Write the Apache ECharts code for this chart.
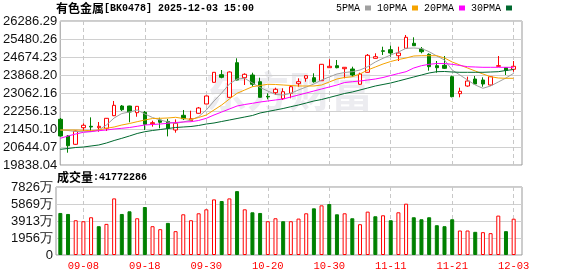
<!DOCTYPE html>
<html><head><meta charset="utf-8">
<script src="https://cdn.jsdelivr.net/npm/echarts@6/dist/echarts.min.js"></script>
<style>html,body{margin:0;padding:0;background:#fff}#c{width:578px;height:276px}</style>
</head><body><div id="c"></div>
<script>
// ---------- data ----------
const titleName = '有色金属';
const titleCode = '[BK0478] 2025-12-03 15:00';
const volTitle = '成交量';
const volLatest = ':41772286';
const maNames = ['5PMA', '10PMA', '20PMA', '30PMA'];

const dates = ['09-03','09-04','09-05','09-08','09-09','09-10','09-11','09-12','09-15','09-16',
  '09-17','09-18','09-19','09-22','09-23','09-24','09-25','09-26','09-29','09-30',
  '10-09','10-10','10-13','10-14','10-15','10-16','10-17','10-20','10-21','10-22',
  '10-23','10-24','10-27','10-28','10-29','10-30','10-31','11-03','11-04','11-05',
  '11-06','11-07','11-10','11-11','11-12','11-13','11-14','11-17','11-18','11-19',
  '11-20','11-21','11-24','11-25','11-26','11-27','11-28','12-01','12-02','12-03'];

const opens = [21884,21137,20765,21508,21571,21508,21481,22045,22480,22480,
  22180,22198,21687,21853,21790,21405,22064,21822,22153,22570,
  23541,23882,22869,24419,23747,23868,23568,22914,23076,22807,
  23049,23478,23720,23747,23613,24195,24285,24150,24137,23452,
  23989,24616,24952,25001,24732,25064,25288,25032,24795,24285,
  24303,23792,23031,23375,23689,23644,23420,24258,24195,24124];
const closes = [21137,20702,21360,21616,21540,21571,21929,22511,22314,22211,
  22466,21660,21732,21750,21480,21705,21911,21911,22391,22928,
  23989,23765,24002,23644,23900,23452,22869,22883,23228,23120,
  23344,23568,23837,23568,24347,24258,24195,24213,23868,23913,
  24750,24688,24930,24853,24853,25556,25180,24912,24240,24195,
  24168,22896,23138,23599,23465,23465,23792,24285,24078,24258];
const lows = [21110,20389,20740,21361,21329,21329,21361,22030,22256,21750,
  21999,21405,21553,21481,21120,21285,21853,21822,22140,22560,
  23530,23720,22850,23630,23420,23347,22860,22780,22973,22748,
  22825,23344,23568,23523,23600,24190,24168,23720,23792,23420,
  23980,24610,24764,24688,24495,25032,25175,24840,24061,23971,
  24137,22869,22869,23344,23420,23344,23389,24226,23868,24016];
const highs = [21943,21181,21380,21705,21971,21764,21940,22704,22525,22490,
  22480,22256,21822,21956,21900,21880,22301,22270,22436,22950,
  24000,24092,24030,24616,23944,23971,23747,23049,23299,23272,
  23420,23720,23850,23944,24360,24571,24540,24220,24240,23971,
  24808,24840,25135,25180,25135,25659,25556,25122,24840,24495,
  24719,23837,23299,23792,23823,23765,23823,24719,24200,24495];

const ma5 = [21405,21383,21338,21329,21329,21405,21629,21943,22144,22211,
  22301,22122,21965,21853,21764,21705,21764,21853,22001,22301,
  22704,23062,23465,23689,23720,23510,23308,23152,22995,22973,
  23049,23196,23331,23465,23644,23779,23913,23980,24016,24092,
  24240,24450,24616,24764,24898,25064,25077,25055,24912,24719,
  24540,24092,23868,23644,23420,23273,23376,23555,23734,23944];
const ma10 = [21405,21405,21405,21392,21374,21405,21481,21540,21629,21696,
  21777,21853,21920,21929,21943,21974,21920,21884,21965,22077,
  22301,22525,22793,23049,23196,23344,23398,23452,23443,23420,
  23398,23376,23376,23376,23420,23555,23689,23756,23792,23913,
  24092,24226,24361,24473,24562,24629,24719,24732,24732,24732,
  24629,24450,24316,24181,24047,23913,23792,23734,23720,23720];
const ma20 = [21033,21137,21226,21302,21338,21374,21405,21450,21481,21517,
  21571,21629,21652,21674,21705,21741,21764,21777,21831,21929,
  22077,22211,22346,22480,22547,22601,22659,22704,22749,22793,
  22883,22973,23062,23152,23241,23331,23420,23532,23568,23599,
  23644,23689,23756,23846,23935,24016,24181,24285,24347,24383,
  24383,24347,24294,24240,24226,24213,24213,24213,24213,24213];
const ma30 = [20541,20577,20622,20644,20689,20734,20823,20935,21033,21137,
  21249,21329,21383,21427,21472,21517,21540,21562,21607,21674,
  21719,21786,21853,21920,21987,22055,22167,22234,22301,22368,
  22449,22525,22614,22704,22771,22860,22950,23040,23107,23196,
  23286,23376,23443,23510,23599,23689,23779,23868,23958,24016,
  24025,24002,23989,23989,23989,23989,24002,24016,24070,24115];

// volume in 万 (10k units); volUp: 1 = red (up), 0 = green (down)
const volumes = [4839,4724,4000,3886,4343,3315,3581,6515,4724,5029,
  4229,5524,3315,2972,3696,2743,4686,4000,4801,5258,
  6401,6210,6515,7353,5258,4915,4839,3886,4229,3886,
  3886,4191,4801,5372,5715,5867,4686,4801,4229,3543,
  4991,4458,4572,4000,4915,5906,4343,4115,4343,3429,
  3315,4115,2819,2819,2667,2629,2515,4534,2743,4177.2286];
const volUp = [0,0,1,1,1,0,1,1,0,0, 1,0,1,1,0,1,1,1,1,1,
  1,0,1,0,1,0,0,1,1,0, 1,1,1,0,1,0,0,1,0,1,
  1,0,1,0,1,1,0,0,0,0, 0,0,1,1,0,1,1,1,0,1];

const priceTicks = [19838.04, 20644.07, 21450.10, 22256.13, 23062.16, 23868.20, 24674.23, 25480.26, 26286.29];
const volTicks = [0, 1956, 3913, 5869, 7826];
const xTickLabels = ['09-08','09-18','09-30','10-20','10-30','11-11','11-21','12-03'];

// ---------- chart ----------
const mono = "'Liberation Mono','DejaVu Sans Mono',monospace";
const cjk = "'Noto Sans CJK SC','Noto Sans',sans-serif";
const sans = "'Liberation Sans',Arial,sans-serif";
const UP = '#ff0000', DOWN = '#008000';
const maColors = ['#a0a0a0', '#f5a300', '#ff00ff', '#00692f'];
const pMin = priceTicks[0], pMax = priceTicks[priceTicks.length - 1];
const pInt = (pMax - pMin) / (priceTicks.length - 1);
const vMax = 7826, vInt = vMax / (volTicks.length - 1);
const isMark = (i, v) => xTickLabels.indexOf(v !== undefined ? v : dates[i]) >= 0;
const nearest = (arr, v) => arr.reduce((a, b) => Math.abs(b - v) < Math.abs(a - v) ? b : a);

const candleData = dates.map((d, i) => [opens[i], closes[i], lows[i], highs[i]]);
const volData = volumes.map((v, i) => ({
  value: v,
  itemStyle: volUp[i] ? {color: '#fff', borderColor: UP, borderWidth: 1}
                      : {color: DOWN, borderColor: DOWN, borderWidth: 1}
}));
const maSeries = [ma5, ma10, ma20, ma30].map((arr, k) => ({
  name: maNames[k], type: 'line', xAxisIndex: 1, yAxisIndex: 1, data: arr,
  symbol: 'none', color: maColors[k], lineStyle: {width: 1, color: maColors[k]},
  itemStyle: {color: maColors[k]}, z: 3, silent: true
}));

const dashSplit = {show: true, interval: isMark, alignWithLabel: true,
  lineStyle: {color: '#c8c8c8', type: [4, 3], width: 1}};

const chart = echarts.init(document.getElementById('c'));
chart.setOption({
  animation: false,
  backgroundColor: '#fff',
  title: [
    {left: 56, top: 2, padding: 0, text: '{a|' + titleName + '}{b|' + titleCode + '}',
     textStyle: {rich: {a: {fontFamily: cjk, fontSize: 12, color: '#000'},
                        b: {fontFamily: mono, fontSize: 10, color: '#000'}}}},
    {left: 57, top: 171, padding: 0, text: '{a|' + volTitle + '}{b|' + volLatest + '}',
     textStyle: {rich: {a: {fontFamily: cjk, fontSize: 12, color: '#000'},
                        b: {fontFamily: mono, fontSize: 10, color: '#000'}}}}
  ],
  legend: {
    data: maNames, right: 66, top: 3, padding: 0, icon: 'rect', itemWidth: 6, itemHeight: 5,
    align: 'right', itemGap: 6, selectedMode: false,
    textStyle: {fontFamily: mono, fontSize: 10, color: '#000'}
  },
  graphic: [{
    type: 'text', left: 205, top: 70, silent: true, z: 0,
    style: {text: '东方财富', fontFamily: cjk, fontSize: 42, fontWeight: 'bold', fill: '#ececf0'}
  }],
  grid: [
    {left: 56, right: 56, top: 21, height: 144, show: true, borderColor: '#999', borderWidth: 1},
    {left: 56.5, right: 60.5, top: 21, height: 144},
    {left: 56, right: 56, top: 187, height: 68, show: true, borderColor: '#999', borderWidth: 1},
    {left: 56.5, right: 60.5, top: 187, height: 68}
  ],
  xAxis: [
    {gridIndex: 0, type: 'value', min: 0, max: 1, show: false},
    {gridIndex: 1, type: 'category', data: dates, boundaryGap: true,
     axisLine: {show: false}, axisTick: {show: false}, axisLabel: {show: false}, splitLine: dashSplit},
    {gridIndex: 2, type: 'value', min: 0, max: 1, show: false},
    {gridIndex: 3, type: 'category', data: dates, boundaryGap: true,
     axisLine: {show: false}, axisTick: {show: false},
     axisLabel: {interval: isMark, color: '#ff0000', fontFamily: mono, fontSize: 10.5, margin: 6},
     splitLine: dashSplit}
  ],
  yAxis: [
    {gridIndex: 0, type: 'value', min: pMin, max: pMax, interval: pInt,
     axisLine: {show: false}, axisTick: {show: false},
     axisLabel: {fontFamily: sans, fontSize: 13, color: '#111', margin: 3,
                 formatter: v => nearest(priceTicks, v).toFixed(2)},
     splitLine: {show: true, lineStyle: {color: '#d0d0d0', width: 1}}},
    {gridIndex: 1, type: 'value', min: pMin, max: pMax, show: false, splitLine: {show: false}},
    {gridIndex: 2, type: 'value', min: 0, max: vMax, interval: vInt,
     axisLine: {show: false}, axisTick: {show: false},
     axisLabel: {fontFamily: sans, fontSize: 13, color: '#111', margin: 3,
                 formatter: v => { const t = nearest(volTicks, v); return t === 0 ? '0' : t + '万'; }},
     splitLine: {show: true, lineStyle: {color: '#d0d0d0', width: 1}}},
    {gridIndex: 3, type: 'value', min: 0, max: vMax, show: false, splitLine: {show: false}}
  ],
  series: [
    {name: 'K', type: 'candlestick', xAxisIndex: 1, yAxisIndex: 1, data: candleData,
     barWidth: 4, silent: true, z: 2,
     itemStyle: {color: '#fff', color0: DOWN, borderColor: UP, borderColor0: DOWN, borderWidth: 1}},
    ...maSeries,
    {name: 'VOL', type: 'bar', xAxisIndex: 3, yAxisIndex: 3, data: volData, barWidth: 4, silent: true}
  ]
});
</script></body></html>
